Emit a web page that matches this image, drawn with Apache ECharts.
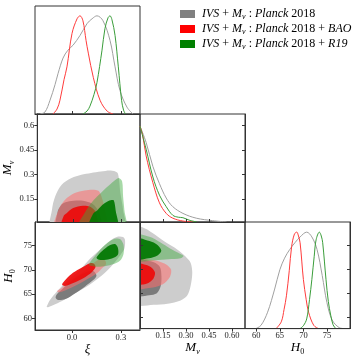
<!DOCTYPE html>
<html>
<head>
<meta charset="utf-8">
<script src="https://cdn.jsdelivr.net/npm/echarts@6/dist/echarts.min.js"></script>
<style>
html, body { margin: 0; padding: 0; background: #fff; }
#chart { width: 357px; height: 357px; }
</style>
</head>
<body>
<div id="chart"></div>
<script>
// axis ranges
var xiRange = [-0.227, 0.417];
var mnuRangeY = [0.01, 0.67];
var mnuRangeX = [0.0, 0.685];
var h0Range = [57.6, 79.9];

// tick values
var xiTicks = [0.0, 0.3];
var mnuTicksY = [0.15, 0.3, 0.45, 0.6];
var mnuTicksX = [0.15, 0.30, 0.45, 0.60];
var h0Ticks = [60, 65, 70, 75];

// 1D marginals: [value, normalised density]
var xiGray1D = [[-0.196,0],[-0.166,0.02],[-0.135,0.14],[-0.104,0.3],[-0.086,0.41],[-0.055,0.57],[-0.025,0.65],[0.006,0.70],[0.049,0.80],[0.092,0.92],[0.123,0.97],[0.153,1.0],[0.19,0.95],[0.233,0.75],[0.264,0.48],[0.294,0.24],[0.337,0.07],[0.374,0.0]];
var xiRed1D = [[-0.117,0],[-0.092,0.05],[-0.074,0.14],[-0.049,0.35],[-0.031,0.48],[0.0,0.82],[0.031,0.97],[0.049,1.0],[0.067,0.95],[0.086,0.75],[0.1,0.62],[0.131,0.37],[0.172,0.14],[0.215,0.03],[0.252,0.0]];
var xiGreen1D = [[0.067,0],[0.092,0.03],[0.11,0.08],[0.135,0.2],[0.153,0.32],[0.184,0.65],[0.202,0.87],[0.221,0.98],[0.233,1.0],[0.245,0.96],[0.264,0.8],[0.284,0.48],[0.304,0.14],[0.316,0.04],[0.328,0.0]];

var mnuGray1D = [[0,1.0],[0.04,0.83],[0.084,0.58],[0.127,0.40],[0.171,0.25],[0.214,0.16],[0.28,0.09],[0.367,0.04],[0.474,0.014],[0.565,0.0]];
var mnuRed1D = [[0,1.0],[0.018,0.9],[0.04,0.69],[0.084,0.41],[0.127,0.20],[0.171,0.09],[0.214,0.04],[0.28,0.01],[0.36,0.0]];
var mnuGreen1D = [[0,1.0],[0.04,0.76],[0.084,0.47],[0.127,0.28],[0.171,0.16],[0.214,0.07],[0.25,0.05],[0.28,0.045],[0.32,0.02],[0.37,0.0]];

var h0Gray1D = [[59.9,0],[61.0,0.034],[62.4,0.17],[63.9,0.41],[65.0,0.61],[66.0,0.73],[67.1,0.82],[68.2,0.89],[69.3,0.95],[70.7,1.0],[71.8,0.95],[72.9,0.82],[74.0,0.55],[75.0,0.27],[76.1,0.09],[77.6,0.01],[78.7,0]];
var h0Red1D = [[64.2,0],[65.3,0.07],[65.9,0.2],[66.4,0.34],[67.0,0.6],[67.5,0.85],[68.1,0.98],[68.6,1.0],[68.9,0.97],[69.3,0.89],[70.0,0.51],[70.6,0.3],[71.1,0.17],[72.2,0.034],[73.2,0]];
var h0Green1D = [[69.3,0],[70.0,0.03],[70.7,0.1],[71.3,0.3],[71.8,0.51],[72.3,0.75],[72.7,0.92],[73.4,1.0],[73.8,0.96],[74.1,0.89],[74.8,0.51],[75.3,0.28],[75.8,0.14],[76.3,0.04],[76.9,0]];

// 2D contours (68% inner, 95% outer): [x, y]
var xiMnuGrayOuter = [[-0.14,-0.03],[-0.135,0.084],[-0.115,0.166],[-0.074,0.238],[-0.012,0.279],[0.049,0.299],[0.110,0.31],[0.172,0.319],[0.233,0.325],[0.274,0.313],[0.284,0.279],[0.294,0.187],[0.311,0.084],[0.316,-0.03]];
var xiMnuGrayInner = [[-0.105,-0.03],[-0.1,0.07],[-0.08,0.11],[-0.05,0.13],[0.0,0.14],[0.06,0.14],[0.12,0.12],[0.16,0.07],[0.17,-0.03]];
var xiMnuRedOuter = [[-0.117,-0.03],[-0.094,0.084],[-0.053,0.146],[0.008,0.187],[0.069,0.203],[0.131,0.207],[0.161,0.197],[0.182,0.146],[0.192,0.105],[0.204,-0.03]];
var xiMnuRedInner = [[-0.076,-0.03],[-0.061,0.048],[-0.043,0.064],[-0.002,0.095],[0.06,0.109],[0.1,0.105],[0.131,0.084],[0.144,0.054],[0.152,-0.03]];
var xiMnuGreenOuter = [[0.025,-0.03],[0.067,0.06],[0.110,0.125],[0.192,0.207],[0.264,0.268],[0.284,0.279],[0.305,0.258],[0.311,0.166],[0.319,0.084],[0.326,-0.03]];
var xiMnuGreenInner = [[0.095,-0.03],[0.123,0.06],[0.152,0.084],[0.182,0.115],[0.213,0.135],[0.239,0.144],[0.253,0.141],[0.264,0.084],[0.275,-0.03]];

var xiH0GrayOuter = [[-0.155,62.4],[-0.135,63.8],[-0.094,65.5],[-0.033,67.6],[0.049,70.0],[0.11,72.3],[0.182,74.5],[0.244,76.3],[0.284,76.9],[0.313,76.8],[0.325,76.2],[0.322,74.5],[0.305,73.5],[0.27,71.9],[0.202,69.4],[0.11,67.0],[0.018,65.2],[-0.061,63.6],[-0.117,62.7],[-0.147,62.3]];
var xiH0GrayInner = [[-0.1,64.2],[-0.085,63.8],[-0.04,64.0],[0.02,65.2],[0.08,66.6],[0.13,67.9],[0.15,68.8],[0.13,69.8],[0.07,69.3],[0.0,67.8],[-0.06,66.0],[-0.095,64.9]];
var xiH0RedOuter = [[-0.092,65.6],[-0.061,66.3],[-0.012,67.9],[0.069,69.6],[0.131,71.4],[0.172,72.2],[0.202,72.0],[0.209,71.2],[0.192,70.6],[0.152,69.3],[0.069,67.6],[-0.012,66.2],[-0.074,65.4]];
var xiH0RedInner = [[-0.061,67.0],[-0.037,68.1],[0.006,69.4],[0.061,70.5],[0.110,71.4],[0.135,71.3],[0.144,70.6],[0.123,69.6],[0.069,68.3],[0.008,67.3],[-0.043,66.7]];
var xiH0GreenOuter = [[0.104,71.1],[0.141,72.9],[0.19,74.8],[0.233,76.0],[0.27,76.5],[0.298,76.3],[0.316,75.2],[0.316,73.3],[0.294,71.9],[0.245,71.1],[0.184,70.7],[0.135,70.7]];
var xiH0GreenInner = [[0.15,72.5],[0.178,73.7],[0.209,74.6],[0.239,75.2],[0.267,75.3],[0.282,74.5],[0.282,73.2],[0.255,72.5],[0.209,72.1],[0.166,72.1]];

var mnuH0GrayOuter = [[-0.03,62.8],[0.088,62.6],[0.18,62.8],[0.265,63.5],[0.308,64.5],[0.33,66.5],[0.341,69.3],[0.33,71.4],[0.297,72.7],[0.245,74.1],[0.16,75.8],[0.082,77.6],[0.036,78.5],[-0.03,79.0]];
var mnuH0GrayInner = [[-0.03,64.6],[0.06,64.6],[0.11,65.0],[0.135,66.5],[0.14,68.5],[0.13,70.5],[0.09,71.5],[-0.03,71.8]];
var mnuH0RedOuter = [[-0.03,72.1],[0.069,72.0],[0.121,71.7],[0.171,71.0],[0.203,69.9],[0.193,68.3],[0.149,66.9],[0.084,66.2],[0.036,66.0],[-0.03,65.9]];
var mnuH0RedInner = [[-0.03,71.1],[0.042,70.9],[0.078,70.3],[0.098,69.3],[0.088,68.1],[0.062,67.3],[0.029,66.9],[-0.03,66.9]];
var mnuH0GreenOuter = [[-0.03,77.2],[0.062,76.8],[0.134,75.6],[0.199,74.3],[0.252,73.4],[0.284,72.8],[0.265,72.3],[0.186,72.1],[0.101,71.9],[-0.03,71.9]];
var mnuH0GreenInner = [[-0.03,76.4],[0.062,75.9],[0.114,75.1],[0.139,73.9],[0.114,72.9],[0.056,72.3],[-0.03,72.2]];

var legendNames = ['P18', 'P18BAO', 'P18R19'];
var legendTexts = {
    P18: '{i|IVS} + {i|M}{s|ν} : {i|Planck} 2018',
    P18BAO: '{i|IVS} + {i|M}{s|ν} : {i|Planck} 2018 + {i|BAO}',
    P18R19: '{i|IVS} + {i|M}{s|ν} : {i|Planck} 2018 + {i|R19}'
};

var SERIF = 'Liberation Serif';
var cols = [35, 140, 245];
var rows = [6, 114, 222];
var W = 105, H = 108;

var fill = {
    grayOuter: '#cdcdcd', grayInner: '#7b7b7b',
    redOuter: 'rgba(255,110,110,0.55)', redInner: 'rgba(238,10,10,0.92)',
    greenOuter: 'rgba(60,170,60,0.45)', greenInner: 'rgba(0,118,0,0.92)'
};
var lineColor = {P18: '#a0a0a0', P18BAO: '#ff3b3b', P18R19: '#3a9d3a'};
var legendColor = {P18: '#808080', P18BAO: '#ff0000', P18R19: '#008000'};

var myChart = echarts.init(document.getElementById('chart'));

var grids = [];
[[0,0],[1,0],[2,0],[1,1],[2,1],[2,2]].forEach(function (rc) {
    grids.push({left: cols[rc[1]], top: rows[rc[0]], width: W, height: H,
        show: true, borderColor: '#333', borderWidth: 1, backgroundColor: 'transparent'});
});

var nameRich = {
    m: {fontFamily: SERIF, fontStyle: 'italic', fontSize: 13, color: '#000', lineHeight: 16},
    s: {fontFamily: SERIF, fontStyle: 'italic', fontSize: 8, color: '#000', lineHeight: 8, verticalAlign: 'bottom'},
    z: {fontFamily: SERIF, fontSize: 8, color: '#000', lineHeight: 8, verticalAlign: 'bottom'}
};

function paramAxis(gridIndex, range, ticks, o) {
    o = o || {};
    return {
        type: 'value', gridIndex: gridIndex, min: range[0], max: range[1], z: 10,
        name: o.name || '', nameLocation: 'middle', nameGap: o.nameGap || 0, nameRotate: o.nameRotate || 0,
        nameTextStyle: {rich: nameRich},
        splitLine: {show: false},
        axisLine: {show: true, onZero: false, lineStyle: {color: '#333', width: 1}},
        axisTick: {show: true, customValues: ticks, inside: !o.labels, length: 3, lineStyle: {color: '#333', width: 1}},
        axisLabel: {show: !!o.labels, customValues: ticks, margin: 3, fontFamily: SERIF, fontSize: 8.5, color: '#222',
            formatter: o.fmt}
    };
}
function densityAxis(gridIndex, ymax) {
    return {type: 'value', gridIndex: gridIndex, min: 0, max: ymax, show: false};
}

var xAxes = [
    paramAxis(0, xiRange, xiTicks),
    paramAxis(1, xiRange, xiTicks),
    paramAxis(2, xiRange, xiTicks, {labels: true, fmt: function (v) { return v.toFixed(1); }, name: '{m|ξ}', nameGap: 11}),
    paramAxis(3, mnuRangeX, mnuTicksX),
    paramAxis(4, mnuRangeX, mnuTicksX, {labels: true, fmt: function (v) { return v.toFixed(2); }, name: '{m|M}{s|ν}', nameGap: 11}),
    paramAxis(5, h0Range, h0Ticks, {labels: true, fmt: function (v) { return String(v); }, name: '{m|H}{z|0}', nameGap: 11})
];
var yAxes = [
    densityAxis(0, 1.1),
    paramAxis(1, mnuRangeY, mnuTicksY, {labels: true, fmt: function (v) { return String(+v.toFixed(2)); }, name: '{m|M}{s|ν}', nameGap: 18, nameRotate: 90}),
    paramAxis(2, h0Range, h0Ticks, {labels: true, fmt: function (v) { return String(v); }, name: '{m|H}{z|0}', nameGap: 18, nameRotate: 90}),
    densityAxis(3, 1.127),
    paramAxis(4, h0Range, h0Ticks),
    densityAxis(5, 1.105),
    paramAxis(3, mnuRangeY, mnuTicksY),
    paramAxis(5, h0Range, h0Ticks)
];

var series = [];
function addLine(name, xi, yi, data) {
    series.push({name: name, type: 'line', xAxisIndex: xi, yAxisIndex: yi, data: data,
        smooth: 0.35, showSymbol: false, silent: true, clip: true, z: 5,
        lineStyle: {width: 1, color: lineColor[name]}, itemStyle: {color: lineColor[name]}});
}
function addPoly(name, xi, yi, pts, color, z) {
    series.push({name: name, type: 'custom', xAxisIndex: xi, yAxisIndex: yi, data: pts,
        clip: true, silent: true, z: z, itemStyle: {color: lineColor[name]},
        renderItem: function (params, api) {
            if (params.dataIndex !== 0) return;
            var p = pts.map(function (d) { return api.coord(d); });
            return {type: 'polygon', shape: {points: p, smooth: 0.3}, style: {fill: color}};
        }});
}

addLine('P18', 0, 0, xiGray1D);
addLine('P18BAO', 0, 0, xiRed1D);
addLine('P18R19', 0, 0, xiGreen1D);
addLine('P18', 3, 3, mnuGray1D);
addLine('P18BAO', 3, 3, mnuRed1D);
addLine('P18R19', 3, 3, mnuGreen1D);
addLine('P18', 5, 5, h0Gray1D);
addLine('P18BAO', 5, 5, h0Red1D);
addLine('P18R19', 5, 5, h0Green1D);

[[1, 1, xiMnuGrayOuter, xiMnuGrayInner, xiMnuRedOuter, xiMnuRedInner, xiMnuGreenOuter, xiMnuGreenInner],
 [2, 2, xiH0GrayOuter, xiH0GrayInner, xiH0RedOuter, xiH0RedInner, xiH0GreenOuter, xiH0GreenInner],
 [4, 4, mnuH0GrayOuter, mnuH0GrayInner, mnuH0RedOuter, mnuH0RedInner, mnuH0GreenOuter, mnuH0GreenInner]
].forEach(function (p) {
    addPoly('P18', p[0], p[1], p[2], fill.grayOuter, 1);
    addPoly('P18', p[0], p[1], p[3], fill.grayInner, 2);
    addPoly('P18BAO', p[0], p[1], p[4], fill.redOuter, 3);
    addPoly('P18BAO', p[0], p[1], p[5], fill.redInner, 4);
    addPoly('P18R19', p[0], p[1], p[6], fill.greenOuter, 5);
    addPoly('P18R19', p[0], p[1], p[7], fill.greenInner, 6);
});

var option = {
    animation: false,
    backgroundColor: '#fff',
    grid: grids,
    xAxis: xAxes,
    yAxis: yAxes,
    legend: {
        orient: 'vertical', left: 180, top: 8, padding: 0,
        itemWidth: 15, itemHeight: 8, itemGap: 2.5, selectedMode: false,
        icon: 'rect',
        data: legendNames.map(function (n) { return {name: n, itemStyle: {color: legendColor[n]}}; }),
        formatter: function (n) { return legendTexts[n]; },
        textStyle: {fontFamily: SERIF, fontSize: 12, color: '#000', padding: [0, 0, 0, 2],
            rich: {
                i: {fontFamily: SERIF, fontStyle: 'italic', fontSize: 12, color: '#000', lineHeight: 13},
                s: {fontFamily: SERIF, fontStyle: 'italic', fontSize: 8, color: '#000', lineHeight: 7, verticalAlign: 'bottom'}
            }}
    },
    series: series
};
myChart.setOption(option);
</script>
</body>
</html>
